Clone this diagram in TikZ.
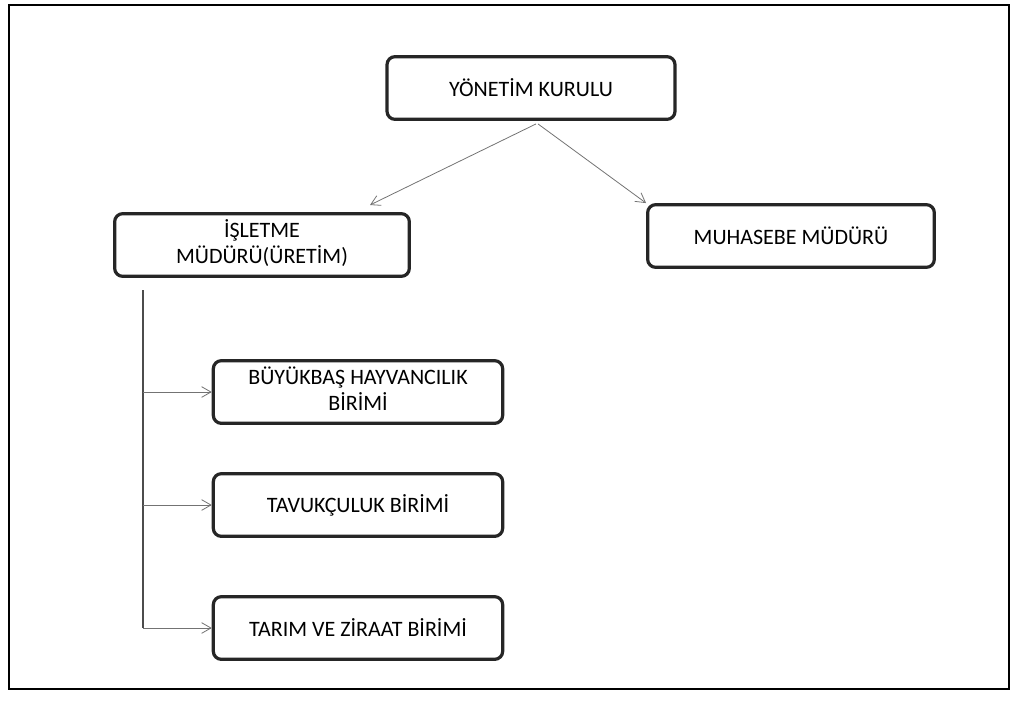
\documentclass[tikz,border=0pt]{standalone}
\usepackage{fontspec}
\setmainfont{Carlito}
\usetikzlibrary{arrows.meta}

\begin{document}
\begin{tikzpicture}[x=0.75pt, y=-0.75pt,
		unit/.style={draw=black!85, line width=2.4pt, rounded corners=6pt, fill=white,
			minimum width=217pt, minimum height=47pt, inner sep=2pt, font=\fontsize{16.5}{20}\selectfont},
		caption/.style={inner sep=0pt, text height=12pt, text depth=4pt, font=\fontsize{16.5}{20}\selectfont},
		link/.style={draw=black!55, line width=0.6pt, -{Straight Barb[length=7pt, width=8pt]}}]
		\useasboundingbox (0,0) rectangle (1024,704);
		\draw[line width=1.2pt] (9,5) rectangle (1009,689);
		\node[unit, minimum width=216pt] (board) at (531,88) {YÖNETİM KURULU};
		\node[unit, minimum width=221pt] (plant) at (262,245) {};
		\node[caption] (plant1) at ([yshift=10pt]plant.center) {İŞLETME};
		\node[caption] (plant2) at ([yshift=-10pt]plant.center) {MÜDÜRÜ(ÜRETİM)};
		\node[unit, minimum width=215pt] (acc) at (791,236) {MUHASEBE MÜDÜRÜ};
		\node[unit] (cattle) at (358,392) {};
		\node[caption] (cattle1) at ([yshift=10pt]cattle.center) {BÜYÜKBAŞ HAYVANCILIK};
		\node[caption] (cattle2) at ([yshift=-10pt]cattle.center) {BİRİMİ};
		\node[unit] (poultry) at (358,505) {TAVUKÇULUK BİRİMİ};
		\node[unit] (farm) at (358,628) {TARIM VE ZİRAAT BİRİMİ};
		\coordinate (top) at (143,290);
		\draw[link] (board.south) ++(5,3) -- (370,205);
		\draw[link] (board.south) ++(7,3) -- (acc.north west);
		\draw[draw=black!70, line width=0.8pt] (top) -- (143,628);
		\draw[link] (143,392) -- (cattle.west);
		\draw[link] (143,505) -- (poultry.west);
		\draw[link] (143,628) -- (farm.west);
	\end{tikzpicture}
\end{document}
